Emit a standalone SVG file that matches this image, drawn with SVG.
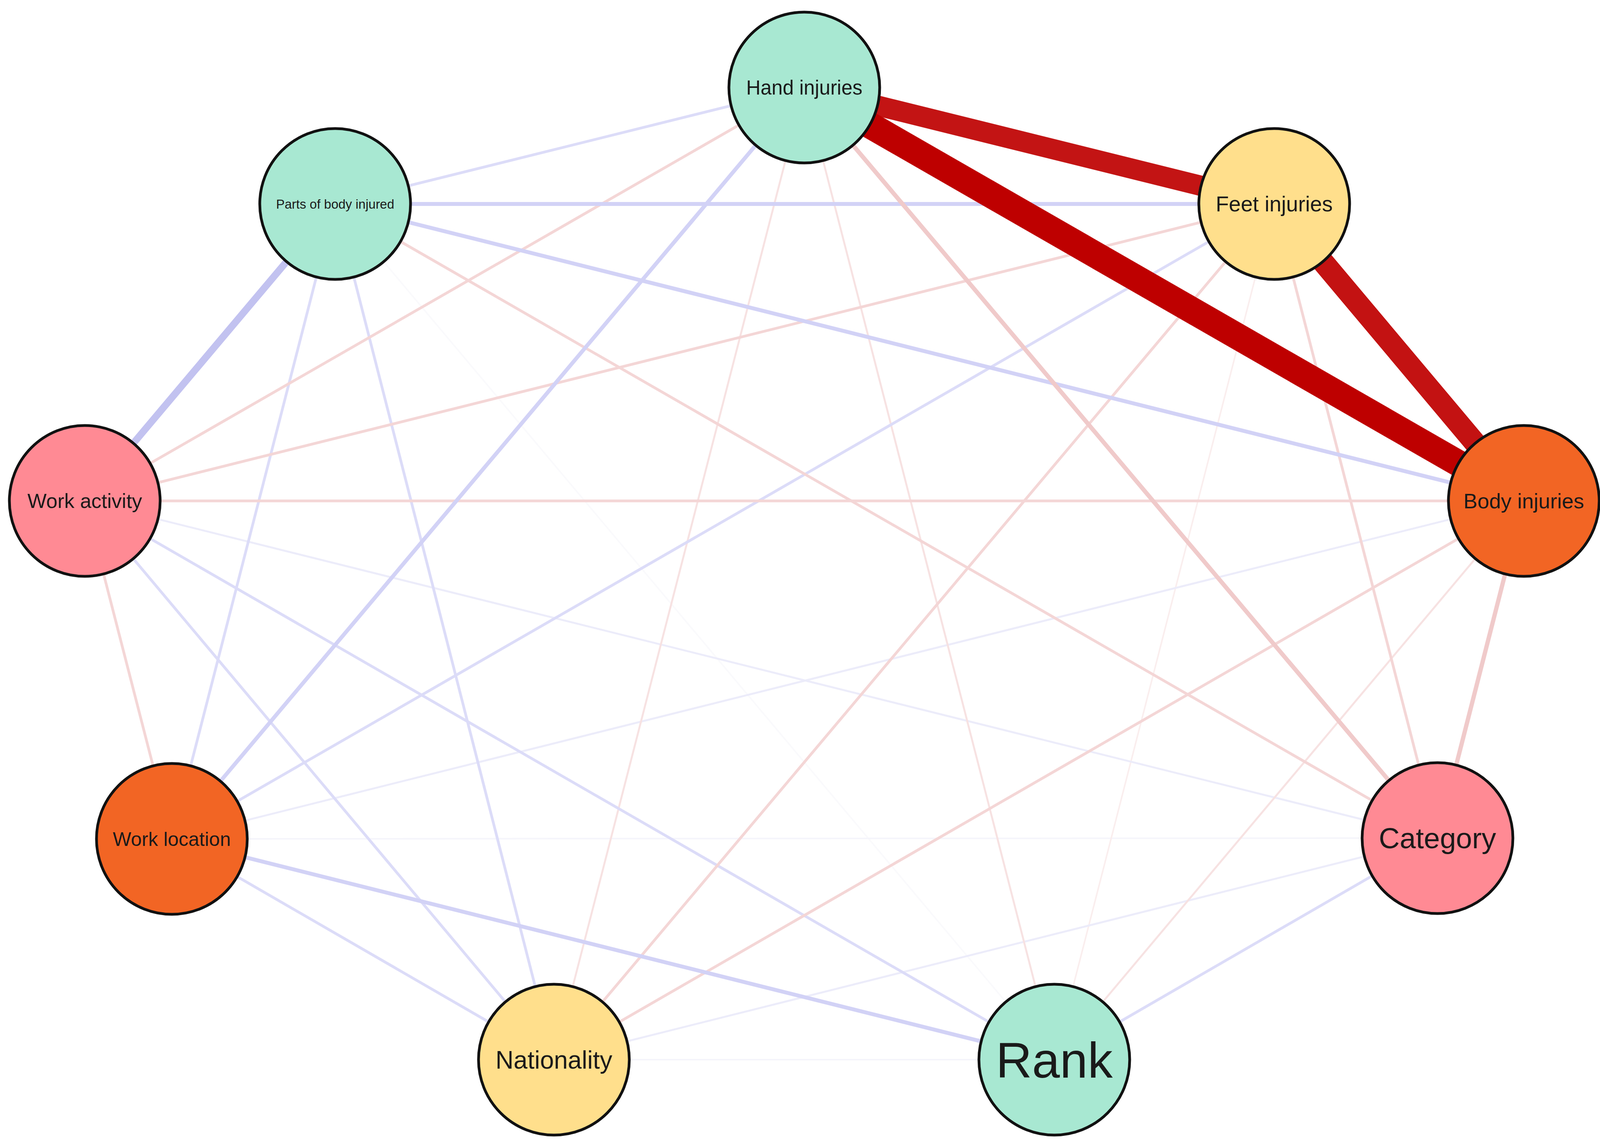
<svg xmlns="http://www.w3.org/2000/svg" width="4128" height="2933" viewBox="0 0 4128 2933">
<style>
.e{fill:none;stroke-linecap:butt}
.bt{stroke:#C2C2F0;stroke-width:18}
.bm{stroke:#D2D2F6;stroke-width:10}
.bs{stroke:#DCDCF8;stroke-width:7}
.bf{stroke:#ECECFA;stroke-width:5}
.bv{stroke:#F5F5FB;stroke-width:4}
.bx{stroke:#FAFAFC;stroke-width:4}
.pm{stroke:#F0CACA;stroke-width:11}
.ps{stroke:#F4D6D6;stroke-width:7}
.pf{stroke:#F7E2E2;stroke-width:5}
.pv{stroke:#FAEEEE;stroke-width:4}
.n{stroke:#111;stroke-width:7}
.teal{fill:#A8E8D2}
.yel{fill:#FFDF8C}
.ora{fill:#F26524}
.pnk{fill:#FF8A94}
text{font-family:"Liberation Sans",Arial,sans-serif;fill:#1a1a1a;text-anchor:middle}
</style>
<g id="edges">
<line class="e bx" x1="858" y1="522" x2="2699" y2="2712"/>
<line class="e bv" x1="1418" y1="2712" x2="2699" y2="2712"/>
<line class="e bv" x1="440" y1="2147" x2="3680" y2="2145"/>
<line class="e pv" x1="3262" y1="522" x2="2699" y2="2712"/>
<line class="e bf" x1="217" y1="1282" x2="3680" y2="2145"/>
<line class="e bf" x1="440" y1="2147" x2="3901" y2="1282"/>
<line class="e bf" x1="3680" y1="2145" x2="1418" y2="2712"/>
<line class="e pf" x1="2059" y1="224" x2="1418" y2="2712"/>
<line class="e pf" x1="2059" y1="224" x2="2699" y2="2712"/>
<line class="e pf" x1="3901" y1="1282" x2="2699" y2="2712"/>
<line class="e bs" x1="858" y1="522" x2="2059" y2="224"/>
<line class="e bs" x1="858" y1="522" x2="440" y2="2147"/>
<line class="e bs" x1="858" y1="522" x2="1418" y2="2712"/>
<line class="e bs" x1="217" y1="1282" x2="1418" y2="2712"/>
<line class="e bs" x1="217" y1="1282" x2="2699" y2="2712"/>
<line class="e bs" x1="440" y1="2147" x2="1418" y2="2712"/>
<line class="e bs" x1="440" y1="2147" x2="3262" y2="522"/>
<line class="e bs" x1="3680" y1="2145" x2="2699" y2="2712"/>
<line class="e ps" x1="217" y1="1282" x2="440" y2="2147"/>
<line class="e ps" x1="217" y1="1282" x2="3901" y2="1282"/>
<line class="e ps" x1="217" y1="1282" x2="2059" y2="224"/>
<line class="e ps" x1="217" y1="1282" x2="3262" y2="522"/>
<line class="e ps" x1="858" y1="522" x2="3680" y2="2145"/>
<line class="e ps" x1="3262" y1="522" x2="3680" y2="2145"/>
<line class="e ps" x1="3262" y1="522" x2="1418" y2="2712"/>
<line class="e ps" x1="3901" y1="1282" x2="1418" y2="2712"/>
<line class="e bm" x1="858" y1="522" x2="3262" y2="522"/>
<line class="e bm" x1="858" y1="522" x2="3901" y2="1282"/>
<line class="e bm" x1="2059" y1="224" x2="440" y2="2147"/>
<line class="e bm" x1="440" y1="2147" x2="2699" y2="2712"/>
<line class="e pm" x1="2059" y1="224" x2="3680" y2="2145"/>
<line class="e pm" x1="3901" y1="1282" x2="3680" y2="2145"/>
<line class="e bt" x1="858" y1="522" x2="217" y2="1282"/>
<line class="e" stroke="#C31414" stroke-width="52" x1="2059" y1="224" x2="3262" y2="522"/>
<line class="e" stroke="#C31212" stroke-width="56" x1="3262" y1="522" x2="3901" y2="1282"/>
<line class="e" stroke="#BE0000" stroke-width="68" x1="2059" y1="224" x2="3901" y2="1282"/>
</g>
<g id="node-hand"><circle class="n teal" cx="2059" cy="224" r="193"/><text x="2059" y="242" font-size="51">Hand injuries</text></g>
<g id="node-feet"><circle class="n yel" cx="3262" cy="522" r="193"/><text x="3262" y="541" font-size="55">Feet injuries</text></g>
<g id="node-parts"><circle class="n teal" cx="858" cy="522" r="193"/><text x="858" y="534" font-size="33">Parts of body injured</text></g>
<g id="node-workactivity"><circle class="n pnk" cx="217" cy="1282" r="193"/><text x="217" y="1300" font-size="52">Work activity</text></g>
<g id="node-body"><circle class="n ora" cx="3901" cy="1282" r="193"/><text x="3901" y="1301" font-size="54">Body injuries</text></g>
<g id="node-worklocation"><circle class="n ora" cx="440" cy="2147" r="193"/><text x="440" y="2165" font-size="50">Work location</text></g>
<g id="node-category"><circle class="n pnk" cx="3680" cy="2145" r="193"/><text x="3680" y="2171" font-size="74">Category</text></g>
<g id="node-nationality"><circle class="n yel" cx="1418" cy="2712" r="193"/><text x="1418" y="2735" font-size="64">Nationality</text></g>
<g id="node-rank"><circle class="n teal" cx="2699" cy="2712" r="193"/><text x="2699" y="2758" font-size="128">Rank</text></g>
</svg>
